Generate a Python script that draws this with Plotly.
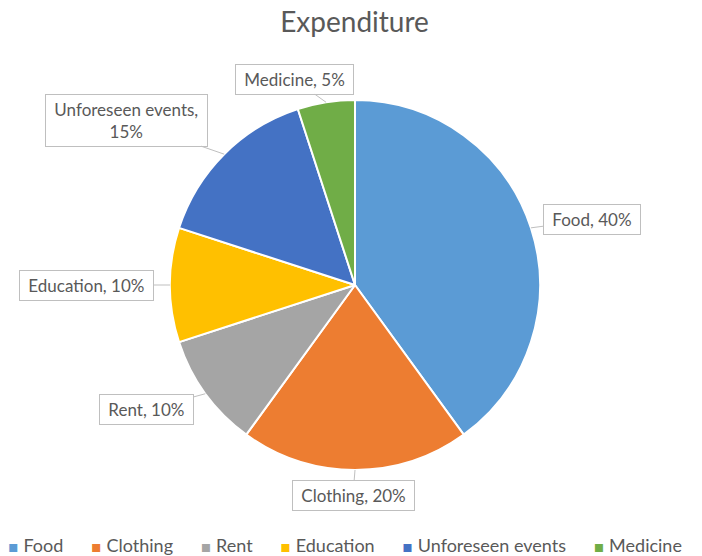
import math
import plotly.graph_objects as go

# Expenditure breakdown
categories = ["Food", "Clothing", "Rent", "Education", "Unforeseen events", "Medicine"]
shares = [40, 20, 10, 10, 15, 5]
label_texts = ["Food, 40%", "Clothing, 20%", "Rent, 10%", "Education, 10%",
               "Unforeseen events,<br>15%", "Medicine, 5%"]
colors = ["#5B9BD5", "#ED7D31", "#A5A5A5", "#FFC000", "#4472C4", "#70AD47"]

# Callout box offsets (pixels) from the slice edge
label_offsets = [(61, -8), (-2, 25), (-59, 16), (-84, 0), (-98, -34), (-32, -23)]

W, H = 702, 556
cx, cy, r = 355, 285, 185  # pie centre and radius in pixels
TEXT = "#595959"
FONT = "Lato"

fig = go.Figure(go.Pie(
    labels=categories,
    values=shares,
    sort=False,
    direction="clockwise",
    rotation=0,
    marker=dict(colors=colors, line=dict(color="white", width=2)),
    textinfo="none",
    hoverinfo="label+percent",
    domain=dict(x=[(cx - r) / W, (cx + r) / W], y=[1 - (cy + r) / H, 1 - (cy - r) / H]),
    showlegend=False,
))

total = sum(shares)
annotations = []
cum = 0
for val, txt, (dx, dy) in zip(shares, label_texts, label_offsets):
    mid = (cum + val / 2) / total * 2 * math.pi
    cum += val
    px = cx + r * math.sin(mid)
    py = cy - r * math.cos(mid)
    padded = "<br>".join("&nbsp;" + line + "&nbsp;" for line in txt.split("<br>"))
    annotations.append(dict(
        x=px / W, y=1 - py / H, xref="paper", yref="paper",
        text=padded, showarrow=True, arrowhead=0, arrowwidth=1, arrowcolor="#BFBFBF",
        ax=dx, ay=dy, standoff=0,
        font=dict(family=FONT, size=17, color=TEXT),
        bordercolor="#BFBFBF", borderwidth=1, borderpad=4, bgcolor="white",
    ))

# Legend row along the bottom: coloured square + category name
sep = "&nbsp;" * 6
legend_text = sep.join(
    f'<span style="color:{c};font-family:DejaVu Sans;font-size:16px">▪</span>&nbsp;{name}'
    for name, c in zip(categories, colors)
)
annotations.append(dict(
    x=6 / W, y=1 - 545 / H, xref="paper", yref="paper",
    xanchor="left", yanchor="middle", showarrow=False,
    text=legend_text, font=dict(family=FONT, size=18, color=TEXT),
))

fig.update_layout(
    width=W, height=H,
    margin=dict(l=0, r=0, t=0, b=0),
    paper_bgcolor="white",
    title=dict(text="Expenditure", x=0.505, xanchor="center", y=0.96, yanchor="middle",
               font=dict(family=FONT, size=28, color=TEXT)),
    annotations=annotations,
    showlegend=False,
)

fig.write_html("out.html")
